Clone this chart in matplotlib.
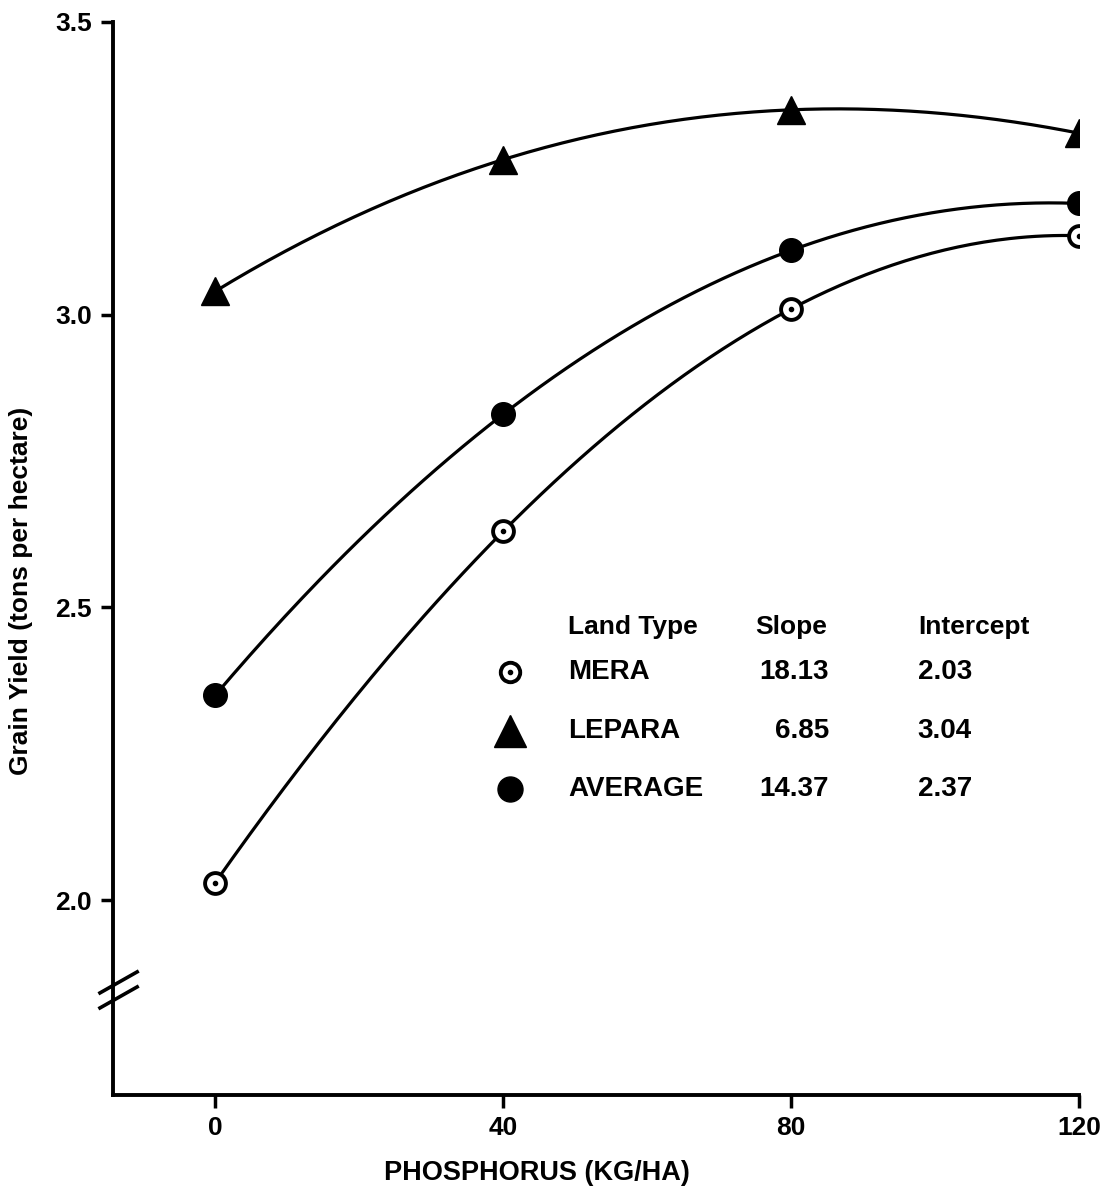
import matplotlib.pyplot as plt
import numpy as np

plt.rcParams['font.family'] = ['Liberation Sans', 'DejaVu Sans']
plt.rcParams['font.weight'] = 'bold'

phosphorus = [0, 40, 80, 120]
mera = [2.03, 2.63, 3.01, 3.135]
lepara = [3.04, 3.265, 3.35, 3.31]
average = [2.35, 2.83, 3.11, 3.19]

land_types = ["MERA", "LEPARA", "AVERAGE"]
slopes = ["18.13", "6.85", "14.37"]
intercepts = ["2.03", "3.04", "2.37"]

fig = plt.figure(figsize=(11.08, 11.89), dpi=100)
ax = fig.add_axes([0.102, 0.079, 0.872, 0.9025])

xs = np.linspace(0, 120, 200)
for ys in (mera, lepara, average):
    c = np.polyfit(phosphorus, ys, 3)
    ax.plot(xs, np.polyval(c, xs), color='black', lw=2.3, zorder=2)

# markers
ax.plot(phosphorus, lepara, '^', color='black', ms=20, zorder=3)
ax.plot(phosphorus, average, 'o', color='black', ms=17, zorder=3)
ax.plot(phosphorus, mera, 'o', mfc='white', mec='black', mew=2.8, ms=15, zorder=3)
ax.plot(phosphorus, mera, 'o', color='black', ms=3, zorder=4)

ax.set_xlim(-14.2, 120)
ax.set_ylim(1.667, 3.5)
ax.set_xticks(phosphorus)
ax.set_xticklabels(["0", "40", "80", "120"])
ax.set_yticks([2.0, 2.5, 3.0, 3.5])
ax.set_yticklabels(["2.0", "2.5", "3.0", "3.5"])
ax.tick_params(labelsize=19, width=2.5, length=9, direction='out', pad=6)
for s in ('top', 'right'):
    ax.spines[s].set_visible(False)
for s in ('left', 'bottom'):
    ax.spines[s].set_linewidth(2.8)

ax.set_ylabel("Grain Yield (tons per hectare)", fontsize=19, fontweight='bold')
ax.yaxis.set_label_coords(-0.083, 0.47)
ax.set_xlabel("PHOSPHORUS (KG/HA)", fontsize=19.5, fontweight='bold')
ax.xaxis.set_label_coords(0.439, -0.0606)

# axis break marks
bx = [-0.0135, 0.025]
for yb in (0.091, 0.105):
    ax.plot(bx, [yb - 0.0098, yb + 0.0098], transform=ax.transAxes, color='black',
            lw=2.6, clip_on=False, zorder=5)

# table legend
ax.text(0.471, 0.436, "Land Type", transform=ax.transAxes, fontsize=19, va='center')
ax.text(0.665, 0.436, "Slope", transform=ax.transAxes, fontsize=19, va='center')
ax.text(0.833, 0.436, "Intercept", transform=ax.transAxes, fontsize=19, va='center')
rows_y = [0.394, 0.339, 0.285]
for name, sl, ic, ry in zip(land_types, slopes, intercepts, rows_y):
    ax.text(0.471, ry, name, transform=ax.transAxes, fontsize=20, va='center')
    ax.text(0.741, ry, sl, transform=ax.transAxes, fontsize=20, va='center', ha='right')
    ax.text(0.833, ry, ic, transform=ax.transAxes, fontsize=20, va='center')
ax.plot(0.411, rows_y[0], 'o', mfc='white', mec='black', mew=2.8, ms=14, transform=ax.transAxes)
ax.plot(0.411, rows_y[0], 'o', color='black', ms=3, transform=ax.transAxes)
ax.plot(0.411, rows_y[1], '^', color='black', ms=23, transform=ax.transAxes)
ax.plot(0.411, rows_y[2], 'o', color='black', ms=18, transform=ax.transAxes)

fig.savefig("out.png", dpi=100)
